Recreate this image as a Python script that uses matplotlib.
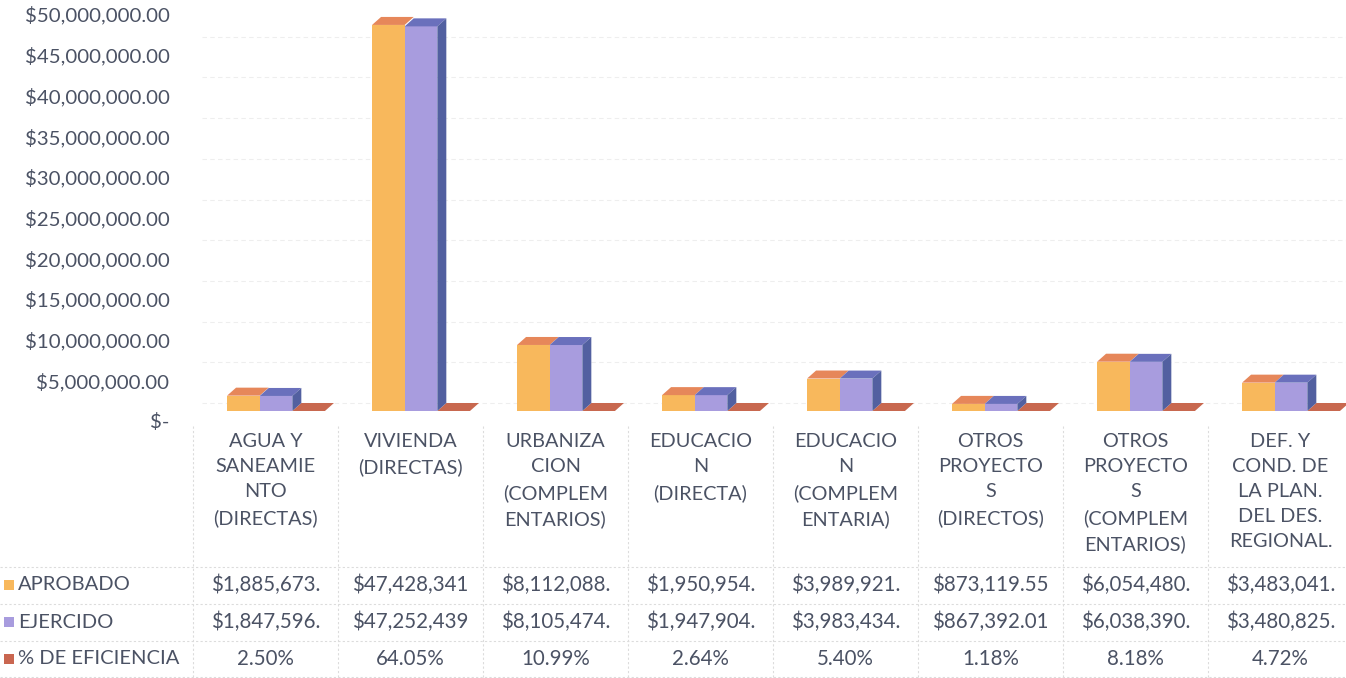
import matplotlib
matplotlib.use("Agg")
import numpy as np
import matplotlib.pyplot as plt
from matplotlib.patches import Polygon
from matplotlib.transforms import blended_transform_factory, ScaledTranslation

# ---------------- datos ----------------
categorias = ["AGUA Y\nSANEAMIE\nNTO\n(DIRECTAS)",
              "VIVIENDA\n(DIRECTAS)",
              "URBANIZA\nCION\n(COMPLEM\nENTARIOS)",
              "EDUCACIO\nN\n(DIRECTA)",
              "EDUCACIO\nN\n(COMPLEM\nENTARIA)",
              "OTROS\nPROYECTO\nS\n(DIRECTOS)",
              "OTROS\nPROYECTO\nS\n(COMPLEM\nENTARIOS)",
              "DEF. Y\nCOND. DE\nLA PLAN.\nDEL DES.\nREGIONAL."]
aprobado = [1885673, 47428341, 8112088, 1950954, 3989921, 873119.55, 6054480, 3483041]
ejercido = [1847596, 47252439, 8105474, 1947904, 3983434, 867392.01, 6038390, 3480825]
eficiencia = [2.50, 64.05, 10.99, 2.64, 5.40, 1.18, 8.18, 4.72]

aprobado_txt = ["$1,885,673.", "$47,428,341", "$8,112,088.", "$1,950,954.",
                "$3,989,921.", "$873,119.55", "$6,054,480.", "$3,483,041."]
ejercido_txt = ["$1,847,596.", "$47,252,439", "$8,105,474.", "$1,947,904.",
                "$3,983,434.", "$867,392.01", "$6,038,390.", "$3,480,825."]
eficiencia_txt = ["2.50%", "64.05%", "10.99%", "2.64%", "5.40%", "1.18%", "8.18%", "4.72%"]
series = ["APROBADO", "EJERCIDO", "% DE EFICIENCIA"]
yticks = np.arange(0, 50000001, 5000000)

# colores
c_ap, c_ap_top = "#F8B85C", "#E6875A"
c_ej, c_ej_top, c_ej_side = "#A89CDE", "#6A70BC", "#5260A0"
c_ef, c_ef_top = "#C96650", "#C8684F"
txt = "#4B5264"
grid_c = "#EEEEEE"

W, H = 1346, 678
plt.rcParams['font.family'] = ['Lato', 'DejaVu Sans']
fig = plt.figure(figsize=(W / 100, H / 100), dpi=100)

def fy(p):
    # pixel (desde arriba) -> fraccion de figura
    return 1 - p / H

ax = fig.add_axes([193 / W, fy(421), 1160 / W, 407 / H])
ax.set_xlim(0, 8)
ax.set_ylim(0, 50e6)
for s in ax.spines.values():
    s.set_visible(False)
ax.set_xticks([])
ax.set_yticks(yticks)
ax.set_yticklabels(["$-" if v == 0 else "${:,.2f}".format(v) for v in yticks],
                   fontsize=14.7, color=txt)
ax.tick_params(axis="y", length=0, pad=17)

# efecto 3D : profundidad
dx = 9 / 145
dy = 8 * 50e6 / 407
tr = ax.transData + ScaledTranslation(0, 10 / 100, fig.dpi_scale_trans)

# lineas de la pared del fondo
for v in yticks:
    ax.plot([dx, 8], [v + dy, v + dy], color=grid_c, lw=0.8, ls=(0, (4, 3)),
            transform=tr, zorder=0)

w = 0.225
for i in range(8):
    x0 = i + 0.235
    x1 = x0 + w
    x2 = x1 + w
    a = aprobado[i]
    e = ejercido[i]
    f = eficiencia[i] / 100
    # aprobado
    ax.bar(x0, a, w, align="edge", color=c_ap, lw=0, transform=tr, zorder=2)
    ax.add_patch(Polygon([(x0, a), (x0 + w, a), (x0 + w + dx, a + dy), (x0 + dx, a + dy)],
                         closed=True, color=c_ap_top, lw=0, transform=tr, zorder=2))
    # eficiencia (losa plana)
    ax.bar(x2, f, w, align="edge", color=c_ef, lw=0, transform=tr, zorder=2)
    ax.add_patch(Polygon([(x2, f), (x2 + w, f), (x2 + w + dx, f + dy), (x2 + dx, f + dy)],
                         closed=True, color=c_ef_top, lw=0, transform=tr, zorder=2))
    # ejercido
    ax.bar(x1, e, w, align="edge", color=c_ej, lw=0, transform=tr, zorder=3)
    ax.add_patch(Polygon([(x1, e), (x1 + w, e), (x1 + w + dx, e + dy), (x1 + dx, e + dy)],
                         closed=True, color=c_ej_top, lw=0, transform=tr, zorder=3))
    ax.add_patch(Polygon([(x1 + w, 0), (x1 + w + dx, dy), (x1 + w + dx, e + dy), (x1 + w, e)],
                         closed=True, color=c_ej_side, lw=0, transform=tr, zorder=3))

# ---------------- tabla de datos ----------------
bt = blended_transform_factory(ax.transData, fig.transFigure)
line_c = "#DCDCDC"

for i, cat in enumerate(categorias):
    fig.text(i + 0.5, fy(433), cat, transform=bt, ha="center", va="top",
             fontsize=14.3, color=txt, linespacing=1.58)

filas = [aprobado_txt, ejercido_txt, eficiencia_txt]
claves = [c_ap, c_ej, c_ef]
ys = [585, 622, 659]
for r in range(3):
    for i in range(8):
        fig.text(i + 0.5, fy(ys[r]), filas[r][i], transform=bt, ha="center",
                 va="center", fontsize=14.8, color=txt)
    fig.patches.append(plt.Rectangle((4 / W, fy(ys[r] + 5)), 10 / W, 10 / H,
                                     transform=fig.transFigure, color=claves[r], lw=0))
    fig.text(18 / W, fy(ys[r]), series[r], ha="left", va="center",
             fontsize=14.5, color=txt)

for i in range(9):
    fig.add_artist(plt.Line2D([i, i], [fy(426), fy(678)], transform=bt,
                              color=line_c, lw=0.8, ls=(0, (2, 2))))
for p in [567, 604, 641, 677]:
    fig.add_artist(plt.Line2D([0, 1], [fy(p), fy(p)], transform=fig.transFigure,
                              color=line_c, lw=0.8, ls=(0, (2, 2))))

fig.savefig("out.png", dpi=100)
